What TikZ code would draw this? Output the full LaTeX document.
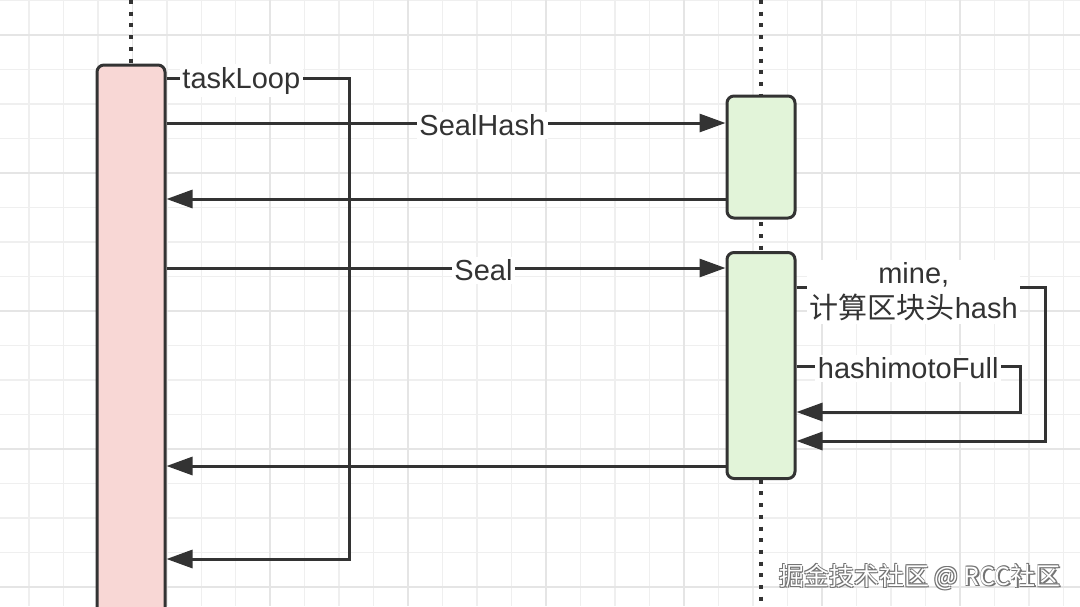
\documentclass[tikz,border=0pt]{standalone}
\usepackage{fontspec}
\setmainfont{Liberation Sans}
\newfontfamily\cjk{Noto Sans CJK SC}
\usepackage{tikz}
\usetikzlibrary{arrows.meta,positioning,calc}
\pgfdeclarelayer{bg}
\pgfsetlayers{bg,main}
\definecolor{ink}{HTML}{333333}
\definecolor{taskpink}{HTML}{F8D7D5}
\definecolor{sealgreen}{HTML}{E2F4D9}
\definecolor{gridminor}{HTML}{EFEFEF}
\definecolor{gridmajor}{HTML}{E5E5E5}
\tikzset{
  act/.style={draw=ink, line width=3pt, rounded corners=7pt, minimum width=68pt, inner sep=0pt},
  life/.style={draw=ink, line width=4pt, dash pattern=on 4pt off 7.7pt},
  msg/.style={draw=ink, line width=3pt, -{Triangle[length=26pt,width=18pt]}},
  lbl/.style={fill=white, text=ink, inner sep=2.5pt, yshift=-2.5pt, font=\fontsize{29}{35}\selectfont},
  wmark/.style={font=\cjk\fontsize{25}{30}\selectfont, inner sep=0pt}
}

\begin{document}
\begin{tikzpicture}[x = 1pt, y = -1pt]
\useasboundingbox (0,0) rectangle (1080,606);
\clip (0,0) rectangle (1080,606);

\node[act, fill=taskpink, minimum height=560pt] (task) at (131,345) {};
\node[act, fill=sealgreen, minimum height=122pt] (hash) at (761,157) {};
\node[act, fill=sealgreen, minimum height=226pt] (seal) at (761,365.5) {};

\coordinate (ltop) at (131,0);
\coordinate (rtop) at (761,0);
\coordinate (rbot) at (761,606);

\begin{pgfonlayer}{bg}
\fill[white] (0,0) rectangle (1080,606);
% grid
\foreach \k in {0,...,31}
  \draw[gridminor, line width=1.5pt] ({28.8+34.49*\k},0) -- ({28.8+34.49*\k},606);
\foreach \k in {0,...,17}
  \draw[gridminor, line width=1.5pt] (0,{0.5+34.5*\k}) -- (1080,{0.5+34.5*\k});
\foreach \k in {3,7,...,31}
  \draw[gridmajor, line width=1.5pt] ({28.8+34.49*\k},0) -- ({28.8+34.49*\k},606);
\foreach \k in {1,5,...,17}
  \draw[gridmajor, line width=1.5pt] (0,{0.5+34.5*\k}) -- (1080,{0.5+34.5*\k});

\draw[life] (ltop) -- (task.north);
\draw[life] (rtop) -- (rbot);
\end{pgfonlayer}

\coordinate (sh) at (0,123);
\coordinate (shr) at (0,199);
\coordinate (se) at (0,268);
\coordinate (ser) at (0,466);

\draw[msg] (task.east |- sh) -- node[lbl, pos=.565] {SealHash} (hash.west |- sh);
\draw[msg] (hash.west |- shr) -- (task.east |- shr);
\draw[msg] (task.east |- se) -- node[lbl, pos=.567] {Seal} (seal.west |- se);
\draw[msg] (seal.west |- ser) -- (task.east |- ser);

% self calls
\coordinate (tl) at (349,78);
\coordinate (tlb) at (349,559);
\draw[msg] (task.east |- tl) -- node[lbl, pos=.41] {taskLoop} (tl) -- (tlb) -- (task.east |- tlb);

\coordinate (mn) at (1045,287);
\coordinate (mnb) at (1045,441);
\draw[msg] (seal.east |- mn) -- node[lbl, align=center, pos=.472, yshift=-2.5pt] {mine,\\{\cjk 计算区块头}hash} (mn) -- (mnb) -- (seal.east |- mnb);

\coordinate (hf) at (1020,366);
\coordinate (hfb) at (1020,412);
\draw[msg] (seal.east |- hf) -- node[lbl, pos=.5] {hashimotoFull} (hf) -- (hfb) -- (seal.east |- hfb);

% watermark
\foreach \dx/\dy in {1.2/1.2, -0.8/0.8, 0.8/-0.8, -0.8/-0.8}
  \node[wmark, text=black!55] at ($(920,577)+(\dx,\dy)$) {掘金技术社区 @ RCC社区};
\node[wmark, text=white] (mark) at (920,577) {掘金技术社区 @ RCC社区};

\end{tikzpicture}
\end{document}
